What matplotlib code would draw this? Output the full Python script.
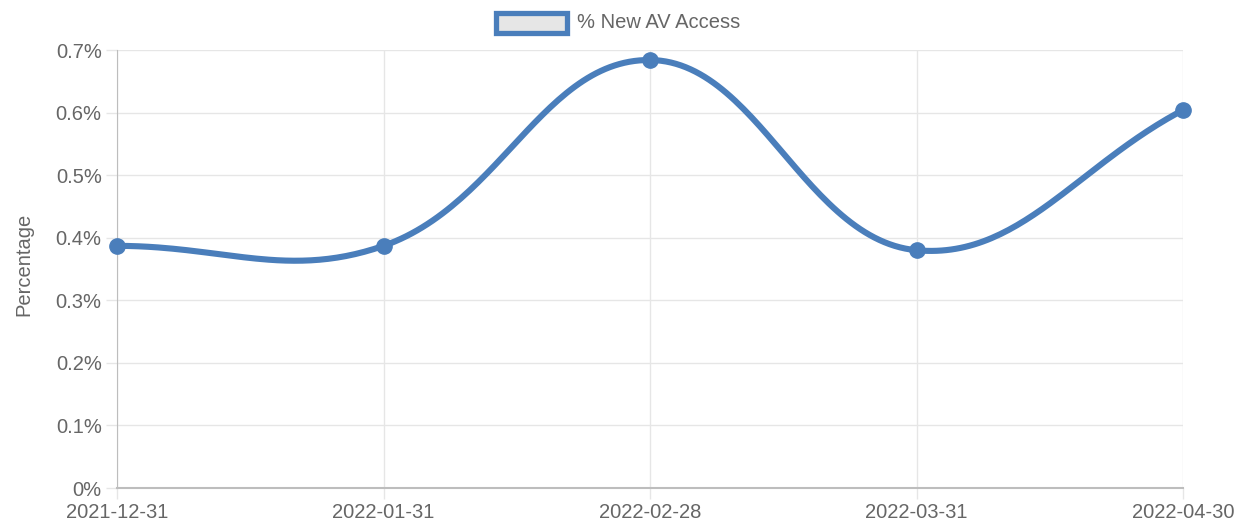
import numpy as np
import matplotlib
matplotlib.use('Agg')
import matplotlib.pyplot as plt
from matplotlib.patches import Rectangle

plt.rcParams['font.family'] = ['Liberation Sans', 'DejaVu Sans']

# ---------------------------------------------------------------------------
# Data
# ---------------------------------------------------------------------------
dates = ['2021-12-31', '2022-01-31', '2022-02-28', '2022-03-31', '2022-04-30']
pct_new_av = [0.387, 0.387, 0.684, 0.380, 0.604]
y_ticks = [0, 0.1, 0.2, 0.3, 0.4, 0.5, 0.6, 0.7]
y_labels = ['0%', '0.1%', '0.2%', '0.3%', '0.4%', '0.5%', '0.6%', '0.7%']

C_LINE = '#4a7ebb'; C_TEXT = '#666666'; C_GRID = '#e6e6e6'; C_AXIS = '#bdbdbd'
FS = 14.5

fig = plt.figure(figsize=(12.37, 5.28), dpi=100, facecolor='white')
ax = fig.add_axes([117/1237, 1-488/528, (1183-117)/1237, (488-50)/528])
ax.set_xlim(0, len(dates) - 1)
ax.set_ylim(0, 0.7)


def spline_path(ax, xs, ys, tension=0.4, n=60):
    # chart.js style bezier spline, computed in pixel space
    pts = ax.transData.transform(np.column_stack([xs, ys]))
    m = len(pts)
    cps = []
    for i in range(m):
        prev = pts[max(i - 1, 0)]; cur = pts[i]; nxt = pts[min(i + 1, m - 1)]
        d01 = np.hypot(*(cur - prev)); d12 = np.hypot(*(nxt - cur))
        tot = d01 + d12
        s01 = d01 / tot if tot else 0; s12 = d12 / tot if tot else 0
        fa = tension * s01; fb = tension * s12
        cps.append((cur - fa * (nxt - prev), cur + fb * (nxt - prev)))
    out = []
    t = np.linspace(0, 1, n)[:, None]
    for i in range(m - 1):
        p0 = pts[i]; p1 = cps[i][1]; p2 = cps[i + 1][0]; p3 = pts[i + 1]
        seg = ((1 - t) ** 3) * p0 + 3 * ((1 - t) ** 2) * t * p1 + 3 * (1 - t) * t ** 2 * p2 + t ** 3 * p3
        out.append(seg)
    out = np.vstack(out)
    return ax.transData.inverted().transform(out)


x = np.arange(len(dates))
curve = spline_path(ax, x, pct_new_av)
ax.plot(curve[:, 0], curve[:, 1], color=C_LINE, lw=4.4, solid_capstyle='round',
        clip_on=False, zorder=3)
ax.plot(x, pct_new_av, 'o', color=C_LINE, markersize=11, clip_on=False, zorder=4)

ax.set_yticks(y_ticks)
ax.set_yticklabels(y_labels)
ax.set_xticks(x)
ax.set_xticklabels(dates)
ax.tick_params(axis='both', colors=C_GRID, labelcolor=C_TEXT, labelsize=FS,
               length=8, width=1)
ax.tick_params(axis='x', pad=3)
ax.tick_params(axis='y', pad=3)
ax.grid(True, color=C_GRID, lw=1)
ax.set_axisbelow(True)
for s in ['top', 'right']:
    ax.spines[s].set_visible(False)
ax.spines['left'].set_color(C_AXIS)
ax.spines['bottom'].set_color(C_AXIS)
ax.spines['bottom'].set_linewidth(1.5)

ax.set_ylabel('Percentage', color=C_TEXT, fontsize=FS)
ax.yaxis.set_label_coords(33/1237, 0.5, transform=fig.transFigure)

# legend box like chart.js
fig.patches.append(Rectangle((496/1237, 1-33/528), 71/1237, 20/528,
                             transform=fig.transFigure, facecolor='#e6e6e6',
                             edgecolor=C_LINE, lw=3.8))
fig.text(577/1237, 1-22/528, '% New AV Access', color=C_TEXT, fontsize=FS,
         va='center', ha='left')

fig.savefig('out.png', dpi=100, facecolor='white')
